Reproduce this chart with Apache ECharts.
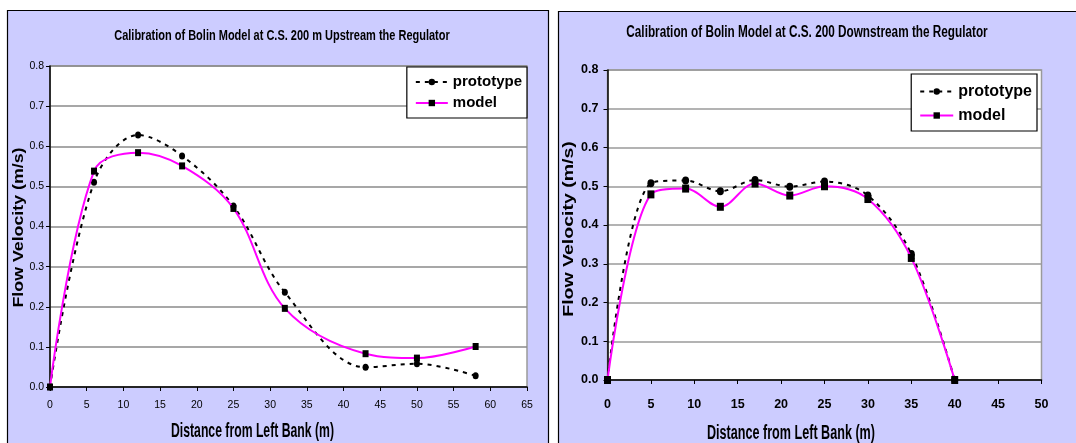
<!DOCTYPE html>
<html>
<head>
<meta charset="utf-8">
<script src="https://cdn.jsdelivr.net/npm/echarts@6/dist/echarts.min.js"></script>
<style>
  html, body { margin: 0; padding: 0; background: #ffffff; }
  #chart { width: 1076px; height: 443px; }
</style>
</head>
<body>
<div id="chart"></div>
<script>
// Cross-section 200 m upstream of the regulator
const xUpstream = [0, 6, 12, 18, 25, 32, 43, 50, 58];
const upstreamPrototype = [0.0, 0.51, 0.628, 0.576, 0.451, 0.236, 0.049, 0.058, 0.028];
const upstreamModel = [0.0, 0.538, 0.584, 0.551, 0.445, 0.196, 0.083, 0.072, 0.101];

// Cross-section 200 downstream of the regulator
const xDownstream = [0, 5, 9, 13, 17, 21, 25, 30, 35, 40];
const downstreamPrototype = [0.0, 0.508, 0.515, 0.487, 0.516, 0.499, 0.512, 0.476, 0.325, 0.0];
const downstreamModel = [0.0, 0.479, 0.494, 0.447, 0.507, 0.476, 0.5, 0.467, 0.315, 0.0];

const titleUp = 'Calibration of Bolin Model at C.S. 200 m Upstream the Regulator';
const titleDown = 'Calibration of Bolin Model at C.S. 200 Downstream the Regulator';
const xTitle = 'Distance from Left Bank (m)';
const yTitle = 'Flow Velocity (m/s)';
const seriesNames = ['prototype', 'model'];

const FONT = "'Liberation Sans', Arial, sans-serif";
const PANEL = '#CCCCFF';
const MAGENTA = '#FF00FF';
const SMOOTH = 0.35;

const pairs = (xs, ys) => xs.map((x, i) => [x, ys[i]]);

function valueXAxis(gridIndex, max, margin, labelStyle) {
  return {
    type: 'value', gridIndex, min: 0, max, interval: 5,
    axisLine: { show: true, onZero: false, lineStyle: { color: '#000', width: 1.5 } },
    axisTick: { show: true, inside: false, length: 4, lineStyle: { color: '#000' } },
    axisLabel: Object.assign({ color: '#000', margin, fontFamily: FONT }, labelStyle),
    splitLine: { show: false }
  };
}

function valueYAxis(gridIndex, margin, labelStyle, gridColor) {
  return {
    type: 'value', gridIndex, min: 0, max: 0.8, interval: 0.1,
    axisLine: { show: true, onZero: false, lineStyle: { color: '#000', width: 1.5 } },
    axisTick: { show: true, inside: false, length: 4, lineStyle: { color: '#000' } },
    axisLabel: Object.assign({ color: '#000', margin, fontFamily: FONT,
                               formatter: v => v.toFixed(1) }, labelStyle),
    splitLine: { show: true, lineStyle: { color: gridColor, width: 1.5 } }
  };
}

function prototypeSeries(idx, data, size) {
  return {
    name: seriesNames[0], type: 'line', xAxisIndex: idx, yAxisIndex: idx,
    data, smooth: SMOOTH, symbol: 'circle', symbolSize: size,
    lineStyle: { color: '#000', width: 2, type: [4, 5] },
    itemStyle: { color: '#000' }, z: 2
  };
}

function modelSeries(idx, data, size) {
  return {
    name: seriesNames[1], type: 'line', xAxisIndex: idx, yAxisIndex: idx,
    data, smooth: SMOOTH, symbol: 'rect', symbolSize: size,
    lineStyle: { color: MAGENTA, width: 2 },
    itemStyle: { color: '#000' }, z: 3
  };
}

function legendBox(right, top, fontSize, lineHeight, itemGap, padding, itemWidth) {
  return {
    data: seriesNames, orient: 'vertical', right, top,
    backgroundColor: '#fff', borderColor: '#000', borderWidth: 1.2,
    padding, itemGap, itemWidth, itemHeight: 8,
    selectedMode: false,
    textStyle: { color: '#000', fontSize, lineHeight, fontWeight: 'bold', fontFamily: FONT }
  };
}

// Text drawn as graphic elements so it can take the tall, condensed proportions
function label(text, x, y, size, sx, sy, rotation) {
  return {
    type: 'text', z: 5, x, y, scaleX: sx, scaleY: sy, rotation: rotation || 0,
    style: { text, align: 'center', verticalAlign: 'middle',
             font: 'bold ' + size + 'px ' + FONT, fill: '#000' }
  };
}

const chart = echarts.init(document.getElementById('chart'), null, { renderer: 'canvas' });

chart.setOption({
  animation: false,
  backgroundColor: '#ffffff',
  graphic: [
    { type: 'rect', z: -10, shape: { x: 7.5, y: 10.5, width: 541, height: 445 },
      style: { fill: PANEL, stroke: '#000', lineWidth: 1.2 } },
    { type: 'rect', z: -10, shape: { x: 558.5, y: 11.5, width: 530, height: 445 },
      style: { fill: PANEL, stroke: '#000', lineWidth: 1.2 } },
    label(titleUp, 282, 36, 11, 1.0, 1.27),
    label(titleDown, 807, 32.5, 12, 0.98, 1.3),
    label(xTitle, 252.5, 431.5, 15, 0.815, 1.3),
    label(xTitle, 791, 433, 15, 0.84, 1.35),
    label(yTitle, 19, 227.5, 14, 1.27, 1.0, Math.PI / 2),
    label(yTitle, 568.7, 229, 15, 1.3, 1.0, Math.PI / 2)
  ],
  grid: [
    { left: 50, top: 66, width: 477, height: 321, show: true,
      backgroundColor: '#fff', borderColor: '#9a9a9a', borderWidth: 1.5 },
    { left: 607.5, top: 70, width: 434, height: 310, show: true,
      backgroundColor: '#fff', borderColor: '#9a9a9a', borderWidth: 1.5 }
  ],
  xAxis: [
    valueXAxis(0, 65, 13, { fontSize: 10.5 }),
    valueXAxis(1, 50, 18, { fontSize: 12.5, fontWeight: 'bold' })
  ],
  yAxis: [
    valueYAxis(0, 6, { fontSize: 10.5 }, '#8a8a8a'),
    valueYAxis(1, 9, { fontSize: 12.5, fontWeight: 'bold' }, '#9a9a9a')
  ],
  legend: [
    legendBox(1076 - 527, 67, 15, 18, 3, [6, 5, 6, 8], 32),
    legendBox(1076 - 1037, 74, 16, 19, 5, [8, 5, 6, 8], 33)
  ],
  series: [
    prototypeSeries(0, pairs(xUpstream, upstreamPrototype), [6, 7]),
    modelSeries(0, pairs(xUpstream, upstreamModel), [6, 7]),
    prototypeSeries(1, pairs(xDownstream, downstreamPrototype), [7, 8]),
    modelSeries(1, pairs(xDownstream, downstreamModel), [7, 8])
  ]
});
</script>
</body>
</html>
